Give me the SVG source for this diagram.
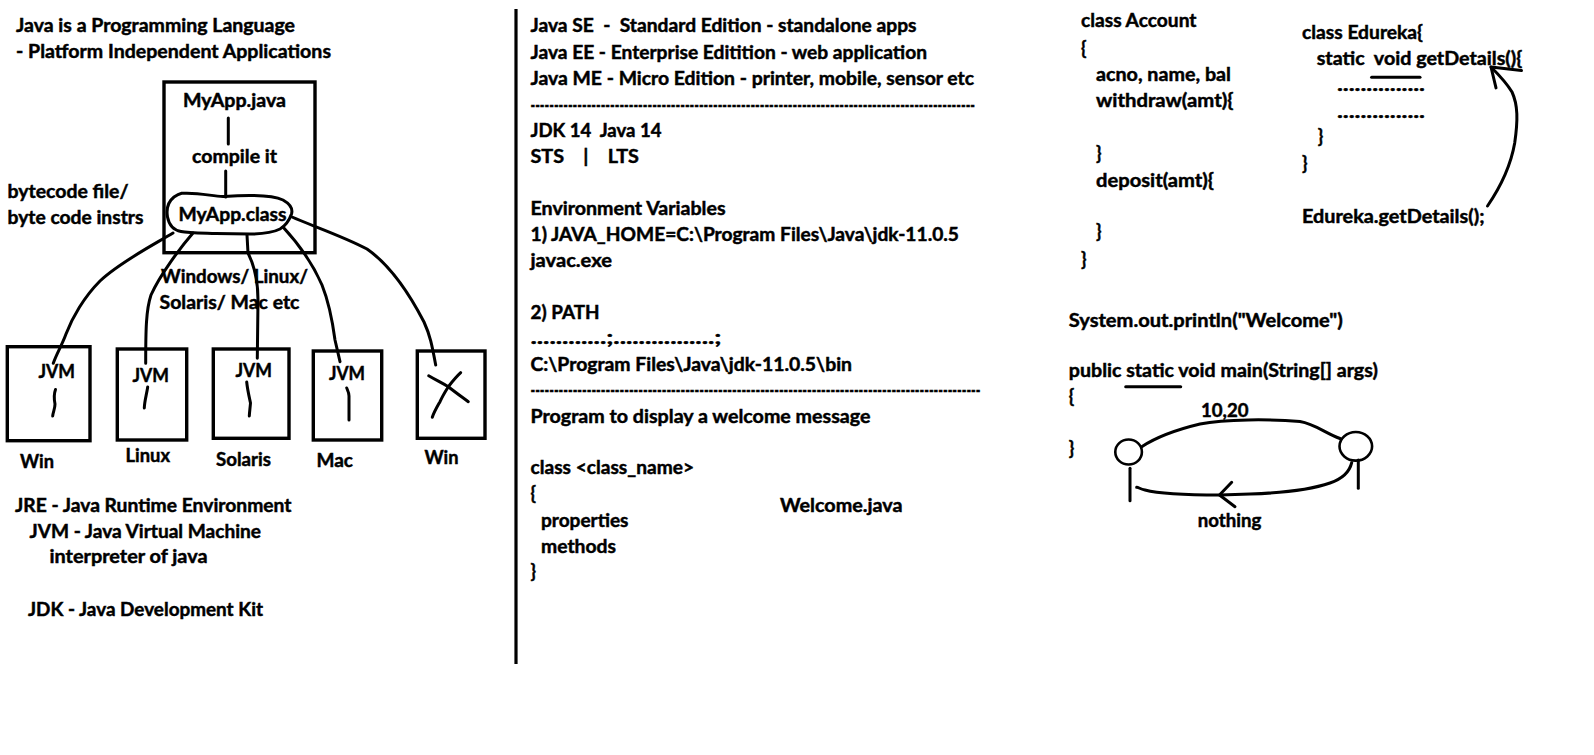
<svg xmlns="http://www.w3.org/2000/svg" width="1594" height="755" viewBox="0 0 1594 755">
<style>
.t{font-family:Lato,"Liberation Sans",Arial,sans-serif;font-weight:bold;font-size:18px;fill:#000;stroke:#000;stroke-width:0.45px}
.p{white-space:pre}
.s{fill:none;stroke:#000;stroke-width:3;stroke-linecap:round;stroke-linejoin:round}
.b{fill:none;stroke:#000;stroke-width:3.4}
</style>
<rect width="1594" height="755" fill="#fff"/>

<g id="intro">
<text class="t" x="16" y="32" textLength="279" lengthAdjust="spacingAndGlyphs">Java is a Programming Language</text>
<text class="t" x="16" y="57.5" textLength="315" lengthAdjust="spacingAndGlyphs">- Platform Independent Applications</text>
</g>

<g id="source-box">
<rect class="b" x="164" y="82" width="151" height="170.7"/>
<text class="t" x="183" y="106.5" textLength="103" lengthAdjust="spacingAndGlyphs">MyApp.java</text>
<text class="t" x="192" y="162.5" textLength="85" lengthAdjust="spacingAndGlyphs">compile it</text>
</g>

<g id="class-blob">
<path class="s" d="M181.7,193.3 C200,192 214,197 224,196.5 C245,195 270,194 283,200 C290,204 293,209 291.5,214 C289,221 285,226 280,229 C272,233 262,234 250,234 L216,233.5 C200,233 188,233 181,231.5 C173,230 169,225 167.5,217 C166,208 169,201 174,197 C177,195 179,194 181.7,193.3 Z"/>
<text class="t" x="178.5" y="221" textLength="108" lengthAdjust="spacingAndGlyphs">MyApp.class</text>
</g>

<g id="bytecode-label">
<text class="t" x="7.5" y="198" textLength="121" lengthAdjust="spacingAndGlyphs">bytecode file/</text>
<text class="t" x="7.5" y="224" textLength="136" lengthAdjust="spacingAndGlyphs">byte code instrs</text>
</g>

<g id="platforms-label">
<text class="t" x="161" y="283" textLength="147" lengthAdjust="spacingAndGlyphs">Windows/ Linux/</text>
<text class="t" x="159.5" y="309" textLength="140" lengthAdjust="spacingAndGlyphs">Solaris/ Mac etc</text>
</g>

<g id="jvm-win">
<rect class="b" x="7.3" y="346.7" width="82.7" height="94"/>
<text class="t" x="38.5" y="378" textLength="36.5" lengthAdjust="spacingAndGlyphs">JVM</text>
<path class="s" d="M55.5,389.5 C53.5,395 54,399 55,404 C55,409 53,412 52.7,416"/>
<text class="t" x="20" y="468" textLength="34" lengthAdjust="spacingAndGlyphs">Win</text>
</g>

<g id="jvm-linux">
<rect class="b" x="117.3" y="349" width="69.4" height="91"/>
<text class="t" x="132.5" y="381.5" textLength="36.5" lengthAdjust="spacingAndGlyphs">JVM</text>
<path class="s" d="M147.7,387 C146.5,395 144.5,401 144.3,408"/>
<text class="t" x="125.5" y="461.5" textLength="44.5" lengthAdjust="spacingAndGlyphs">Linux</text>
</g>

<g id="jvm-solaris">
<rect class="b" x="213.3" y="349" width="75.7" height="89.3"/>
<text class="t" x="235.5" y="376.7" textLength="36.5" lengthAdjust="spacingAndGlyphs">JVM</text>
<path class="s" d="M246.7,382 C247.5,390 249,396 250.5,403 C250,409 249.5,412 249.3,416"/>
<text class="t" x="216" y="465.5" textLength="55" lengthAdjust="spacingAndGlyphs">Solaris</text>
</g>

<g id="jvm-mac">
<rect class="b" x="313.3" y="351" width="68.4" height="89"/>
<text class="t" x="329" y="380" textLength="36" lengthAdjust="spacingAndGlyphs">JVM</text>
<path class="s" d="M346.7,388 C348,391 349,393 349,396 L349,420"/>
<text class="t" x="316.5" y="466.5" textLength="36.5" lengthAdjust="spacingAndGlyphs">Mac</text>
</g>

<g id="jvm-none">
<rect class="b" x="417.3" y="351" width="67.7" height="87.3"/>
<path class="s" d="M428.7,375.7 C436,380 442,383 448.3,386.7 C455,392 462,397 468.3,401.7"/>
<path class="s" d="M460.7,372.7 C456,377 452,382 448.3,386.7 C445,392 442,397 440,401.7 C437,407 434,412 432.3,417.3"/>
<text class="t" x="424.5" y="464.3" textLength="34" lengthAdjust="spacingAndGlyphs">Win</text>
</g>

<g id="definitions">
<text class="t" x="15" y="512.3" textLength="276.5" lengthAdjust="spacingAndGlyphs">JRE - Java Runtime Environment</text>
<text class="t" x="29.5" y="538.3" textLength="231.5" lengthAdjust="spacingAndGlyphs">JVM - Java Virtual Machine</text>
<text class="t" x="49.5" y="563.3" textLength="158" lengthAdjust="spacingAndGlyphs">interpreter of java</text>
<text class="t" x="28" y="616" textLength="235" lengthAdjust="spacingAndGlyphs">JDK - Java Development Kit</text>
</g>

<g id="connectors">
<path class="s" d="M228.3,118 L228.3,144"/>
<path class="s" d="M225.7,171 L225.7,197"/>
<path class="s" d="M173,233 C155,244 120,262 100,281 C84,297 72,318 66,334 C62,345 56,355 53.3,363.3"/>
<path class="s" d="M193,233 C180,248 160,275 151,295 C146,310 145.7,330 145.7,363.3"/>
<path class="s" d="M247,235 L248,253 C254,265 258,280 258,300 L257.3,358.3"/>
<path class="s" d="M283,227 C295,240 312,262 322,285 C330,305 333,325 335,340 L340,361.7"/>
<path class="s" d="M292,217 C310,225 345,237 367,249 C390,265 410,295 424,322 C430,335 432,345 435.7,365"/>
<path class="s" d="M1487.5,206 C1495,195 1510,170 1514.7,143 C1518,120 1518,105 1512,92 C1506,82 1497,73 1491,67"/>
<path class="s" d="M1496,87.9 L1491,67 L1521.5,70.5"/>
<path class="s" d="M1141.7,446.7 C1155,438 1175,430 1200,424 C1225,419 1270,419 1300,421.5 C1315,424 1325,433 1340,438.5"/>
<path class="s" d="M1351.7,462.7 C1350,470 1345,478 1330,483 C1310,490 1280,493 1250,494 L1220,495 C1190,495 1160,494 1145,490 C1140,489 1138,487 1136.7,487.3"/>
<path class="s" d="M1231.7,482.3 L1219.5,495 L1235,506.7"/>
</g>

<path id="divider" d="M516,9 L516,664" stroke="#000" stroke-width="3.2" fill="none"/>

<g id="editions">
<text class="t p" x="530.5" y="32.3" textLength="386" lengthAdjust="spacingAndGlyphs">Java SE  -  Standard Edition - standalone apps</text>
<text class="t" x="530.5" y="59" textLength="396.5" lengthAdjust="spacingAndGlyphs">Java EE - Enterprise Editition - web application</text>
<text class="t" x="530.5" y="85" textLength="443.5" lengthAdjust="spacingAndGlyphs">Java ME - Micro Edition - printer, mobile, sensor etc</text>
<text class="t" x="530.5" y="111.5" textLength="444.5" lengthAdjust="spacingAndGlyphs">-----------------------------------------------------------------------------------------------</text>
</g>

<g id="versions">
<text class="t p" x="530.5" y="136.7" textLength="131" lengthAdjust="spacingAndGlyphs">JDK 14  Java 14</text>
<text class="t p" x="530.5" y="162.7" textLength="108.5" lengthAdjust="spacingAndGlyphs">STS    |    LTS</text>
</g>

<g id="env-vars">
<text class="t" x="530.5" y="215" textLength="195" lengthAdjust="spacingAndGlyphs">Environment Variables</text>
<text class="t" x="530.5" y="240.7" textLength="428.5" lengthAdjust="spacingAndGlyphs">1) JAVA_HOME=C:\Program Files\Java\jdk-11.0.5</text>
<text class="t" x="530.5" y="266.7" textLength="81.5" lengthAdjust="spacingAndGlyphs">javac.exe</text>
<text class="t" x="530.5" y="319" textLength="69" lengthAdjust="spacingAndGlyphs">2) PATH</text>
<text class="t" x="530.5" y="344" textLength="191" lengthAdjust="spacingAndGlyphs">............;................;</text>
<text class="t" x="530.5" y="370.7" textLength="321.5" lengthAdjust="spacingAndGlyphs">C:\Program Files\Java\jdk-11.0.5\bin</text>
<text class="t" x="530.5" y="396.5" textLength="450" lengthAdjust="spacingAndGlyphs">------------------------------------------------------------------------------------------------</text>
</g>

<g id="program">
<text class="t" x="530.5" y="422.7" textLength="340" lengthAdjust="spacingAndGlyphs">Program to display a welcome message</text>
<text class="t" x="530.5" y="474.3" textLength="163.5" lengthAdjust="spacingAndGlyphs">class &lt;class_name&gt;</text>
<text class="t" x="530.5" y="500.3">{</text>
<text class="t" x="541" y="526.7" textLength="87.5" lengthAdjust="spacingAndGlyphs">properties</text>
<text class="t" x="541" y="552.7" textLength="75" lengthAdjust="spacingAndGlyphs">methods</text>
<text class="t" x="530.5" y="578.3">}</text>
<text class="t" x="780" y="511.7" textLength="122.5" lengthAdjust="spacingAndGlyphs">Welcome.java</text>
</g>

<g id="account">
<text class="t" x="1081" y="27.2" textLength="115.5" lengthAdjust="spacingAndGlyphs">class Account</text>
<text class="t" x="1081" y="54.5">{</text>
<text class="t" x="1096" y="80.7" textLength="135" lengthAdjust="spacingAndGlyphs">acno, name, bal</text>
<text class="t" x="1096" y="107.3" textLength="137.5" lengthAdjust="spacingAndGlyphs">withdraw(amt){</text>
<text class="t" x="1096" y="160.1">}</text>
<text class="t" x="1096" y="186.6" textLength="118" lengthAdjust="spacingAndGlyphs">deposit(amt){</text>
<text class="t" x="1096" y="238.4">}</text>
<text class="t" x="1081" y="265.7">}</text>
</g>

<g id="edureka">
<text class="t" x="1302" y="38.5" textLength="121" lengthAdjust="spacingAndGlyphs">class Edureka{</text>
<text class="t p" x="1316.7" y="64.7" textLength="205.5" lengthAdjust="spacingAndGlyphs">static  void getDetails(){</text>
<path class="s" d="M1371.6,77.3 L1420,77.3"/>
<text class="t" x="1337" y="91.3" textLength="88" lengthAdjust="spacingAndGlyphs">...............</text>
<text class="t" x="1337" y="117.5" textLength="88" lengthAdjust="spacingAndGlyphs">...............</text>
<text class="t" x="1317.7" y="143">}</text>
<text class="t" x="1302" y="170.3">}</text>
<text class="t" x="1302" y="223.1" textLength="182.5" lengthAdjust="spacingAndGlyphs">Edureka.getDetails();</text>
</g>

<g id="main-method">
<text class="t" x="1068.8" y="326.7" textLength="274" lengthAdjust="spacingAndGlyphs">System.out.println("Welcome")</text>
<text class="t" x="1068.8" y="376.7" textLength="309" lengthAdjust="spacingAndGlyphs">public static void main(String[] args)</text>
<path class="s" d="M1125.7,386.7 L1180.7,386.7"/>
<text class="t" x="1068.8" y="403.3">{</text>
<text class="t" x="1068.8" y="454.5">}</text>
</g>

<g id="caller">
<ellipse cx="1128.6" cy="452" rx="13.3" ry="12.5" fill="none" stroke="#000" stroke-width="2.6"/>
<path class="s" d="M1130,468.3 L1130,500.7"/>
</g>

<g id="callee">
<ellipse cx="1355.8" cy="446.3" rx="16.3" ry="14.3" fill="none" stroke="#000" stroke-width="2.6"/>
<path class="s" d="M1358.3,460 L1358.3,488.3"/>
</g>

<g id="flow-labels">
<text class="t" x="1201" y="416.7" textLength="47.5" lengthAdjust="spacingAndGlyphs">10,20</text>
<text class="t" x="1197.8" y="526.7" textLength="63.5" lengthAdjust="spacingAndGlyphs">nothing</text>
</g>
</svg>
